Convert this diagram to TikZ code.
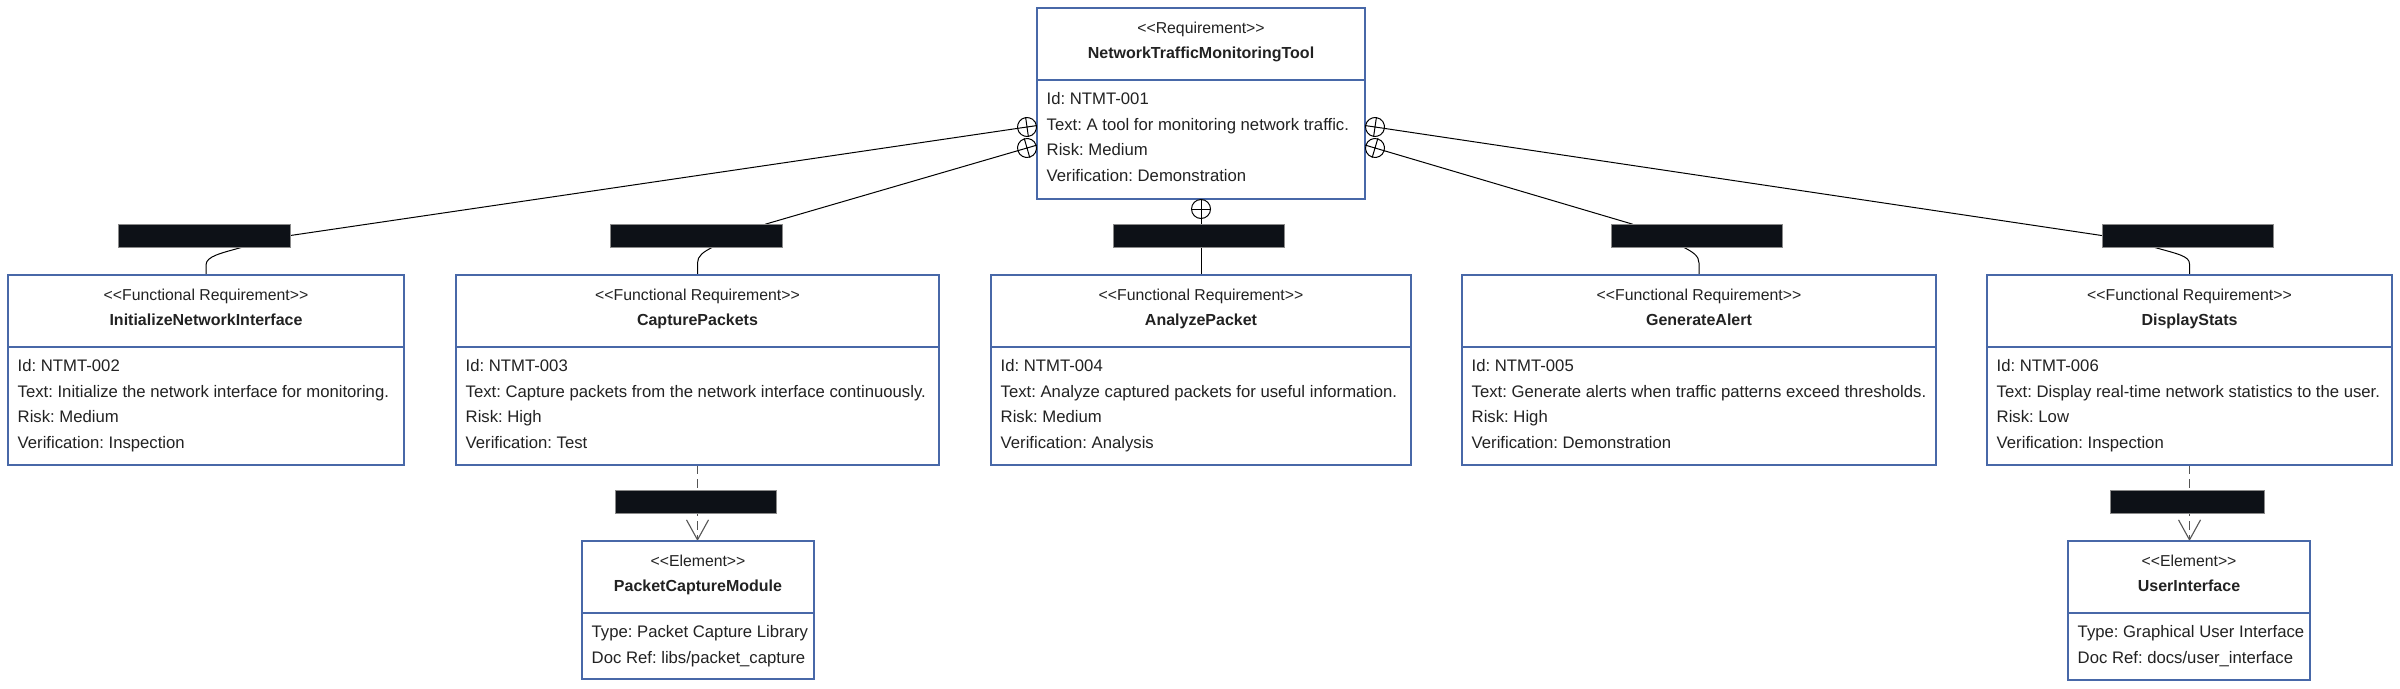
\documentclass[tikz,border=0pt]{standalone}
\usepackage{fontspec}
\setmainfont{Liberation Sans}
\usetikzlibrary{arrows.meta,calc}
\pgfdeclarelayer{bg}
\pgfsetlayers{bg,main}
\definecolor{boxblue}{RGB}{72,104,168}
\definecolor{labfill}{HTML}{0D1117}
\definecolor{labedge}{HTML}{8A8A8A}
\definecolor{txt}{HTML}{222222}
\definecolor{depgray}{HTML}{555555}
\frenchspacing

\tikzset{
  rbox/.style={draw=boxblue, line width=1.3pt, fill=white, rectangle, inner sep=0pt, outer sep=0pt},
  divline/.style={draw=boxblue, line width=1.3pt},
  stereo/.style={font=\fontsize{15.8}{18}\selectfont, text=txt, inner sep=0pt, anchor=base},
  titletxt/.style={font=\bfseries\fontsize{16}{18}\selectfont, text=txt, inner sep=0pt, anchor=base},
  body/.style={font=\fontsize{16.7}{20}\selectfont, text=txt, inner sep=0pt, anchor=base west},
  lab/.style={draw=labedge, fill=labfill, line width=0.8pt, minimum height=23pt, inner sep=0pt},
  ccirc/.style={circle, draw=black, fill=white, line width=1pt, minimum size=19pt, inner sep=0pt},
  conn/.style={draw=black, line width=1pt},
  dep/.style={draw=depgray, line width=1.1pt, dash pattern=on 8.5pt off 5.5pt,
    -{Straight Barb[length=20pt,width=22pt,line width=1.1pt]}},
}

\newcommand\StTxt[1]{<\kern0pt<#1>\kern0pt>}

\newcommand\ReqBox[8]{%
  \node[rbox, anchor=north west, minimum width={#4-#2}, minimum height={#5-#3}] (#1) at (#2,#3) {};
  \draw[divline] ($(#1.north west)+(0,72)$) -- ($(#1.north east)+(0,72)$);
  \node[stereo] (#1-st) at ($(#1.north)+(0,25)$) {#6};
  \node[titletxt] (#1-ti) at ($(#1.north)+(0,50.5)$) {#7};
  \foreach \ln [count=\i from 0] in {#8} {
    \node[body] (#1-l\i) at ($(#1.north west)+(9.5,96.5+25.5*\i)$) {\ln};
  }%
}

\begin{document}
\begin{tikzpicture}[x=1pt,y=-1pt]
\begin{pgfonlayer}{bg}
\fill[white] (0,0) rectangle (2400,688);
\end{pgfonlayer}
\useasboundingbox (0,0) rectangle (2400,688);

\ReqBox{req}{1037}{8}{1365}{199}{\StTxt{Requirement}}{NetworkTrafficMonitoringTool}{Id: NTMT-001, Text: A tool for monitoring network traffic., Risk: Medium, Verification: Demonstration}
\ReqBox{fr1}{8}{275}{404}{465}{\StTxt{Functional Requirement}}{InitializeNetworkInterface}{Id: NTMT-002, Text: Initialize the network interface for monitoring., Risk: Medium, Verification: Inspection}
\ReqBox{fr2}{456}{275}{939}{465}{\StTxt{Functional Requirement}}{CapturePackets}{Id: NTMT-003, Text: Capture packets from the network interface continuously., Risk: High, Verification: Test}
\ReqBox{fr3}{991}{275}{1411}{465}{\StTxt{Functional Requirement}}{AnalyzePacket}{Id: NTMT-004, Text: Analyze captured packets for useful information., Risk: Medium, Verification: Analysis}
\ReqBox{fr4}{1462}{275}{1936}{465}{\StTxt{Functional Requirement}}{GenerateAlert}{Id: NTMT-005, Text: Generate alerts when traffic patterns exceed thresholds., Risk: High, Verification: Demonstration}
\ReqBox{fr5}{1987}{275}{2392}{465}{\StTxt{Functional Requirement}}{DisplayStats}{Id: NTMT-006, Text: Display real-time network statistics to the user., Risk: Low, Verification: Inspection}
\ReqBox{el1}{582}{541}{814}{679}{\StTxt{Element}}{PacketCaptureModule}{Type: Packet Capture Library, Doc Ref: libs/packet\_capture}
\ReqBox{el2}{2068}{541}{2310}{680}{\StTxt{Element}}{UserInterface}{Type: Graphical User Interface, Doc Ref: docs/user\_interface}

% containment circles
\node[ccirc, rotate=8.2] (c1) at (1027,127) {};
\node[ccirc, rotate=16.2] (c2) at (1027,148) {};
\node[ccirc] (c3) at (1201,209) {};
\node[ccirc, rotate=-16.5] (c4) at (1375,148) {};
\node[ccirc, rotate=-8.3] (c5) at (1375,127) {};
\foreach \c in {c1,c2,c3,c4,c5} {
  \draw[line width=1pt] (\c.north) -- (\c.south) (\c.east) -- (\c.west);
}

% edge labels
\node[lab, minimum width=172pt] (l1) at (204,235.5) {};
\node[lab, minimum width=172pt] (l2) at (696,235.5) {};
\node[lab, minimum width=171pt] (l3) at (1198.5,235.5) {};
\node[lab, minimum width=171pt] (l4) at (1696.5,235.5) {};
\node[lab, minimum width=171pt] (l5) at (2187.5,235.5) {};
\node[lab, minimum width=161pt] (l6) at (695.5,501.5) {};
\node[lab, minimum width=154pt] (l7) at (2187,501.5) {};

\begin{pgfonlayer}{bg}
\draw[conn] (c1.center) -- (l1.east) -- (243,247) .. controls (222,253) and (206,256) .. (206,265) -- (fr1.north);
\draw[conn] (c2.center) -- (766,224) -- (713,247) .. controls (703,252) and (697.5,256) .. (697.5,263) -- (fr2.north);
\draw[conn] (c3.center) -- (fr3.north);
\draw[conn] (c4.center) -- (1632,224) -- (1683,247) .. controls (1693,252) and (1699,256) .. (1699,263) -- (fr4.north);
\draw[conn] (c5.center) -- (l5.west) -- (2153,247) .. controls (2178,254) and (2189.5,256) .. (2189.5,264) -- (fr5.north);
\draw[dep] (fr2.south) -- (fr2.south |- el1.north);
\draw[dep] (fr5.south) -- (fr5.south |- el2.north);
\end{pgfonlayer}
\end{tikzpicture}
\end{document}
